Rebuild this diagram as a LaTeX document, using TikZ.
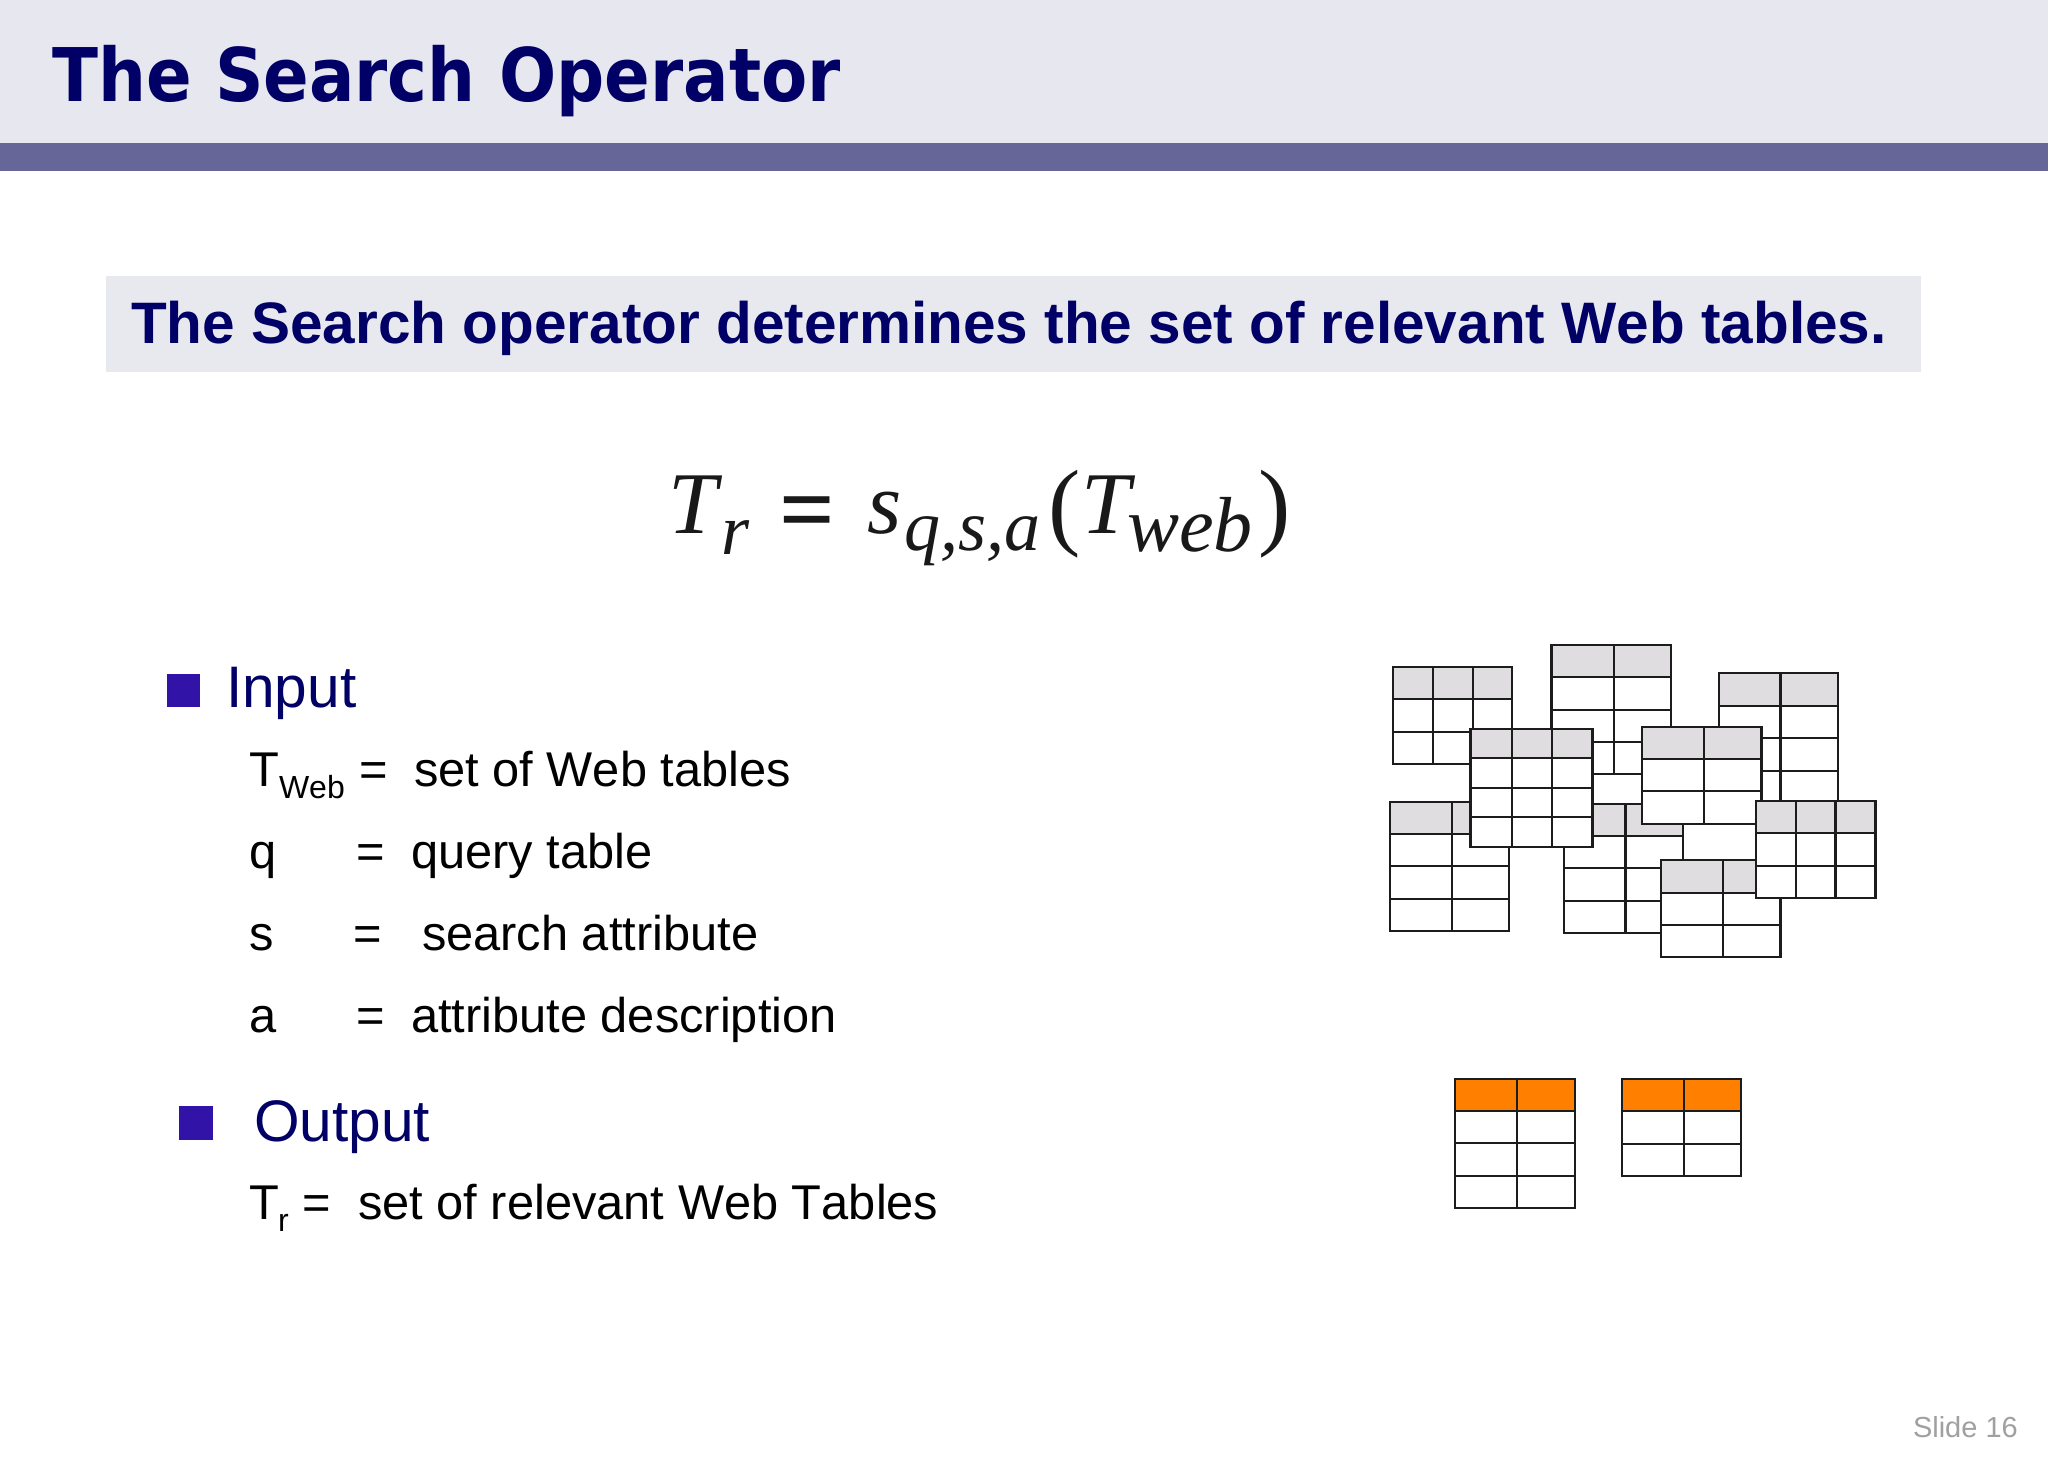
\documentclass[tikz,border=0pt]{standalone}
\usepackage{fontspec}
\setmainfont[Kerning=Off]{Liberation Sans}
\newfontfamily\titlefont[FakeStretch=0.91]{DejaVu Sans}
\newfontfamily\mathserif{Liberation Serif}
\definecolor{navy}{HTML}{000066}
\definecolor{headbg}{HTML}{E7E7EF}
\definecolor{band}{HTML}{666699}
\definecolor{boxbg}{HTML}{E8E8EF}
\definecolor{bullet}{HTML}{3213A8}
\definecolor{tablegrey}{HTML}{DFDDE0}
\definecolor{tableorange}{HTML}{FF8000}
\definecolor{slidegrey}{HTML}{A0A0A0}
\definecolor{tableline}{HTML}{1C1C1C}
\newcommand{\fsz}[1]{\fontsize{#1}{#1}\selectfont}
\tikzset{
  txt/.style={anchor=base west,inner sep=0pt,outer sep=0pt,text=black,font=\fsz{48.8}},
  sub/.style={anchor=base west,inner sep=0pt,outer sep=0pt,text=black,font=\fsz{32}},
  head/.style={anchor=base west,inner sep=0pt,outer sep=0pt,text=navy,font=\fsz{58.6}},
  mth/.style={anchor=base west,inner sep=0pt,outer sep=0pt,text=black!90,font=\mathserif\itshape\fsz{88}},
  mthsub/.style={anchor=base west,inner sep=0pt,outer sep=0pt,text=black!90,font=\mathserif\itshape\fsz{72}},
  mthweb/.style={anchor=base west,inner sep=0pt,outer sep=0pt,text=black!90,font=\mathserif\itshape\fsz{78}},
  mthup/.style={anchor=base west,inner sep=0pt,outer sep=0pt,text=black!90,font=\mathserif\fsz{97}},
  mtheq/.style={anchor=base west,inner sep=0pt,outer sep=0pt,text=black!90,font=\mathserif\bfseries\fsz{98}},
  tline/.style={draw=tableline,line width=2.2pt}
}
% x0,y0,x1,y1,header bottom,columns,rows,header colour
\newcommand{\webtable}[8]{%
  \fill[white] (#1,#2) rectangle (#3,#4);
  \fill[#8] (#1,#2) rectangle (#3,#5);
  \foreach \cc in {#6} {\draw[tline] (\cc,#2) -- (\cc,#4);}
  \foreach \rr in {#5,#7} {\draw[tline] (#1,\rr) -- (#3,\rr);}
  \draw[tline] (#1,#2) rectangle (#3,#4);
}
\begin{document}
\begin{tikzpicture}[x=1pt,y=-1pt]
\useasboundingbox (0,0) rectangle (2048,1463);
\fill[white] (0,0) rectangle (2048,1463);
\fill[headbg] (0,0) rectangle (2048,143);
\fill[band] (0,143) rectangle (2048,171);
\node[anchor=base west,inner sep=0pt,text=navy,font=\titlefont\bfseries\fsz{74}] (title) at (52,102) {The Search Operator};
\fill[boxbg] (106,276) rectangle (1921,372);
\node[anchor=base west,inner sep=0pt,text=navy,font=\bfseries\fsz{58.5}] (subtitle) at (131,343) {The Search operator determines the set of relevant Web tables.};
% formula
\node[mth] (fT) at (668,533) {T};
\node[mthsub] (fr) at (721,554) {r};
\node[mtheq] (feq) at (779,542) {=};
\node[mth] (fs) at (867,533) {s};
\node[mthsub] (fsub) at (904,550) {q,s,a};
\node[mthup] (fl) at (1048,537) {(};
\node[mth] (fT2) at (1081,533) {T};
\node[mthweb] (fweb) at (1127,551) {web};
\node[mthup] (fr2) at (1258,537) {)};
% input
\fill[bullet] (167,674) rectangle (200,707);
\node[head] (input) at (226,707) {Input};
\node[txt] (t1) at (249,786) {T};
\node[sub] (t1s) at (279,798) {Web};
\node[txt] (t1e) at (359,786) {=};
\node[txt] (t1d) at (414,786) {set of Web tables};
\node[txt] (t2) at (249,868) {q};
\node[txt] (t2e) at (356,868) {=};
\node[txt] (t2d) at (411,868) {query table};
\node[txt] (t3) at (249,950) {s};
\node[txt] (t3e) at (353,950) {=};
\node[txt] (t3d) at (422,950) {search attribute};
\node[txt] (t4) at (249,1032) {a};
\node[txt] (t4e) at (356,1032) {=};
\node[txt] (t4d) at (411,1032) {attribute description};
% output
\fill[bullet] (179,1106) rectangle (213,1140);
\node[head] (output) at (254,1141) {Output};
\node[txt] (t5) at (249,1219) {T};
\node[sub] (t5s) at (278,1231) {r};
\node[txt] (t5e) at (302,1219) {=};
\node[txt] (t5d) at (358,1219) {set of relevant Web Tables};
\node[anchor=base east,inner sep=0pt,text=slidegrey,font=\fsz{29}] (slide) at (2018,1437) {Slide 16};
% web tables
\begin{scope}[shift={(1360,620)},x=0.34435pt,y=-0.33333pt]
\webtable{95}{140}{442}{432}{238}{211,327}{335}{tablegrey}
\webtable{556}{75}{903}{463}{172}{737}{269,366}{tablegrey}
\webtable{1042}{160}{1388}{548}{258}{1221}{355,452}{tablegrey}
\webtable{86}{545}{433}{933}{642}{267}{739,836}{tablegrey}
\webtable{592}{552}{938}{938}{648}{771}{745,842}{tablegrey}
\webtable{321}{328}{675}{680}{415}{441,558}{504,592}{tablegrey}
\webtable{820}{321}{1166}{611}{417}{1000}{514}{tablegrey}
\webtable{875}{720}{1221}{1012}{818}{1055}{915}{tablegrey}
\webtable{1149}{544}{1497}{833}{640}{1265,1381}{737}{tablegrey}
\end{scope}
% result tables
\webtable{1455}{1079}{1575}{1208}{1111}{1517}{1143,1176}{tableorange}
\webtable{1622}{1079}{1741}{1176}{1111}{1684}{1144}{tableorange}
\end{tikzpicture}
\end{document}
